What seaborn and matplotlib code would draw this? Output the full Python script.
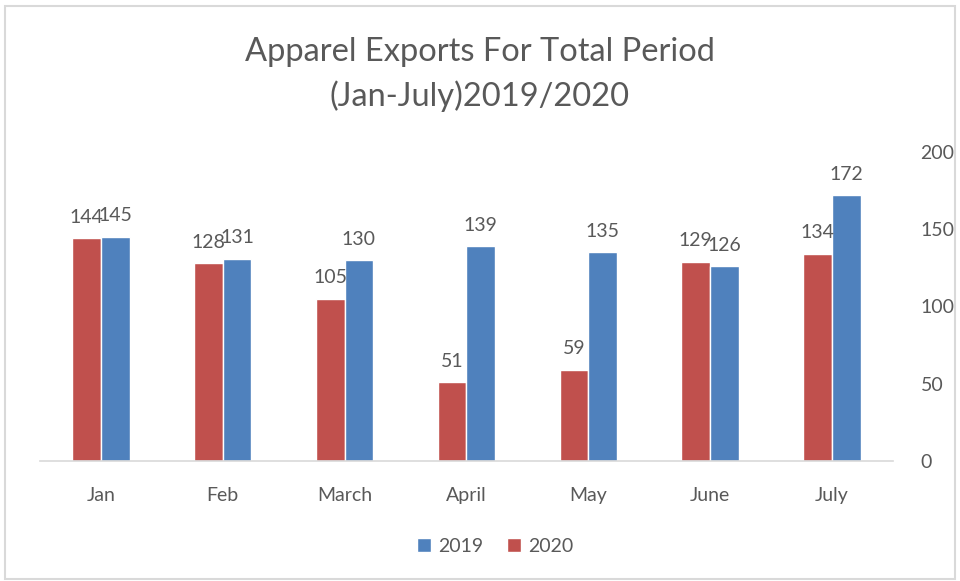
import matplotlib
matplotlib.use("Agg")
import matplotlib.pyplot as plt
import seaborn as sns
import pandas as pd
from matplotlib.patches import Patch, Rectangle

months = ["Jan", "Feb", "March", "April", "May", "June", "July"]
exports_2019 = [145, 131, 130, 139, 135, 126, 172]
exports_2020 = [144, 128, 105, 51, 59, 129, 134]
yticks = [0, 50, 100, 150, 200]

sns.set_theme(style="white")
plt.rcParams["font.family"] = ["Lato", "DejaVu Sans"]

blue = "#4f81bd"
red = "#c0504d"
gray_text = "#595959"

df = pd.DataFrame({
    "Month": months * 2,
    "Value": exports_2020 + exports_2019,
    "Year": ["2020"] * len(months) + ["2019"] * len(months),
})

fig = plt.figure(figsize=(9.6, 5.81), dpi=100)
ax = fig.add_axes([0.0417, 0.2065, 0.8883, 0.532])
sns.barplot(data=df, x="Month", y="Value", hue="Year", hue_order=["2020", "2019"],
            palette={"2020": red, "2019": blue}, width=0.47, ax=ax,
            saturation=1, legend=False, errorbar=None)

for c in ax.containers:
    ax.bar_label(c, fmt="%d", padding=9, fontsize=14, color=gray_text)

ax.set_ylim(0, 200)
ax.set_xlim(-0.5, 6.5)
ax.set_yticks(yticks)
ax.yaxis.tick_right()
ax.tick_params(axis="y", length=0, pad=20, labelsize=14, labelcolor=gray_text)
ax.tick_params(axis="x", length=0, pad=19, labelsize=14, labelcolor=gray_text)
ax.set_xlabel("")
ax.set_ylabel("")
for s in ["top", "left", "right"]:
    ax.spines[s].set_visible(False)
ax.spines["bottom"].set_color("#d9d9d9")
ax.spines["bottom"].set_linewidth(1.2)

fig.text(0.5, 0.872, "Apparel Exports For Total Period\n(Jan-July)2019/2020",
         ha="center", va="center", fontsize=23.5, color=gray_text, linespacing=1.5)

handles = [Patch(facecolor=blue, label="2019"), Patch(facecolor=red, label="2020")]
fig.legend(handles=handles, loc="center", bbox_to_anchor=(0.516, 0.06), ncol=2,
           frameon=False, fontsize=14, labelcolor=gray_text, handlelength=0.7,
           handleheight=0.7, handletextpad=0.4, columnspacing=1.2)

fig.patches.append(Rectangle((0.005, 0.003), 0.99, 0.987, transform=fig.transFigure,
                             fill=False, edgecolor="#d9d9d9", linewidth=1.5))

fig.savefig("out.png", dpi=100)
